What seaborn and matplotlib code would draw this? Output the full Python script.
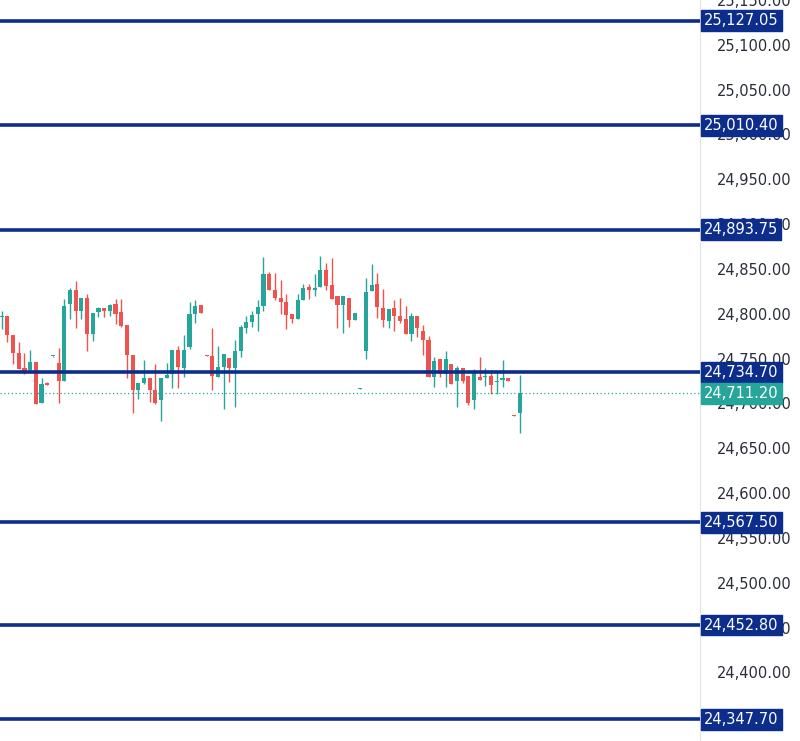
import numpy as np
import matplotlib
matplotlib.use("Agg")
import matplotlib.pyplot as plt
import seaborn as sns

# candle data (offset from 24,000)
opens = [796, 798, 776, 756, 739, 737, 746, 700, 723, 753, 745, 725, 811, 826, 803, 818, 777, 802, 806, 803,
         811, 802, 787, 754, 715, 723, 728, 715, 704, 728, 733, 760, 739, 763, 800, 810, 754, 753, 729, 741,
         751, 739, 759, 784, 791, 800, 809, 844, 826, 818, 813, 800, 794, 815, 830, 827, 830, 849, 832, 820,
         810, 818, 793, 716, 759, 825, 833, 806, 792, 806, 798, 794, 777, 798, 781, 771, 729, 749, 733, 744,
         725, 739, 731, 704, 730, 729, 731, 724, 726, 728, 687, 689]
highs = [803, 798, 776, 769, 756, 760, 746, 728, 724, 753, 762, 816, 829, 836, 818, 822, 801, 807, 806, 811,
         816, 816, 787, 754, 723, 748, 728, 744, 728, 745, 760, 764, 776, 813, 815, 810, 754, 784, 764, 755,
         751, 771, 788, 798, 803, 815, 863, 847, 846, 838, 822, 800, 822, 833, 833, 844, 864, 857, 862, 820,
         820, 818, 801, 717, 840, 856, 846, 828, 805, 815, 818, 809, 801, 798, 787, 775, 752, 749, 759, 744,
         742, 739, 731, 738, 752, 739, 737, 735, 748, 728, 687, 732]
lows = [783, 768, 744, 738, 733, 735, 699, 700, 720, 752, 700, 725, 794, 784, 794, 758, 770, 796, 796, 797,
        789, 785, 728, 689, 705, 722, 702, 699, 680, 728, 717, 717, 729, 761, 790, 801, 753, 715, 729, 694,
        724, 696, 752, 779, 785, 781, 803, 826, 815, 800, 783, 790, 794, 815, 816, 820, 830, 827, 816, 784,
        779, 785, 793, 716, 749, 825, 795, 785, 784, 781, 790, 777, 770, 774, 754, 729, 718, 729, 718, 722,
        696, 723, 698, 694, 726, 719, 711, 710, 718, 725, 686, 667]
closes = [797, 776, 756, 738, 736, 746, 699, 722, 721, 753, 725, 809, 826, 803, 818, 777, 801, 806, 803, 810,
          800, 786, 754, 715, 723, 728, 715, 701, 728, 732, 760, 741, 760, 800, 809, 801, 753, 731, 741, 755,
          739, 759, 785, 791, 799, 808, 844, 826, 818, 813, 799, 794, 815, 829, 827, 828, 849, 831, 817, 810,
          820, 793, 801, 717, 824, 832, 807, 793, 805, 798, 792, 777, 798, 784, 771, 730, 747, 733, 749, 722,
          739, 725, 700, 734, 726, 731, 721, 725, 728, 725, 686, 711.2]

levels = [25127.05, 25010.40, 24893.75, 24734.70, 24567.50, 24452.80, 24347.70]
last_price = 24711.20
tick_values = np.arange(24400, 25151, 50)

GREEN = "#26a69a"
RED = "#ef5350"
NAVY = "#0c2d8c"

sns.set_style("white")
plt.rcParams["font.family"] = ["DejaVu Sans"]

o = 24000 + np.array(opens, dtype=float)
h = 24000 + np.array(highs, dtype=float)
l = 24000 + np.array(lows, dtype=float)
c = 24000 + np.array(closes, dtype=float)
x = np.arange(len(o))
colors = np.where(c >= o, GREEN, RED)

fig = plt.figure(figsize=(8, 7.41), dpi=100)
ax = fig.add_axes([0, 0, 0.875, 1])

ax.vlines(x, l, h, color=colors, linewidth=1)
bottoms = np.minimum(o, c)
heights = np.maximum(np.abs(c - o), 1.2)
ax.bar(x, heights, bottom=bottoms, width=0.72, color=colors, linewidth=0)

for lv in levels:
    ax.axhline(lv, color=NAVY, linewidth=2.6, zorder=3)
ax.axhline(last_price, color=GREEN, linewidth=0.9, linestyle=(0, (1, 2)), zorder=2)

ax.set_xlim(-0.3, 122.7)
ax.set_ylim(24323.4, 25145.5)
ax.set_xticks([])
ax.yaxis.tick_right()
ax.set_yticks(tick_values)
ax.set_yticklabels([f"{v:,.2f}" for v in tick_values])
ax.tick_params(axis="y", length=0, pad=12, labelsize=10.5, labelcolor="#2a2e39")
for side in ["top", "left", "bottom"]:
    ax.spines[side].set_visible(False)
ax.spines["right"].set_color("#e0e3eb")

for lv in levels:
    ax.text(1.006, lv, f"{lv:,.2f}", transform=ax.get_yaxis_transform(), ha="left", va="center",
            color="white", fontsize=10.5, clip_on=False, zorder=5,
            bbox=dict(boxstyle="square,pad=0.2", facecolor=NAVY, edgecolor=NAVY))
ax.text(1.006, last_price, f"{last_price:,.2f}", transform=ax.get_yaxis_transform(), ha="left",
        va="center", color="white", fontsize=10.5, clip_on=False, zorder=5,
        bbox=dict(boxstyle="square,pad=0.2", facecolor=GREEN, edgecolor=GREEN))

fig.savefig("out.png", dpi=100)
